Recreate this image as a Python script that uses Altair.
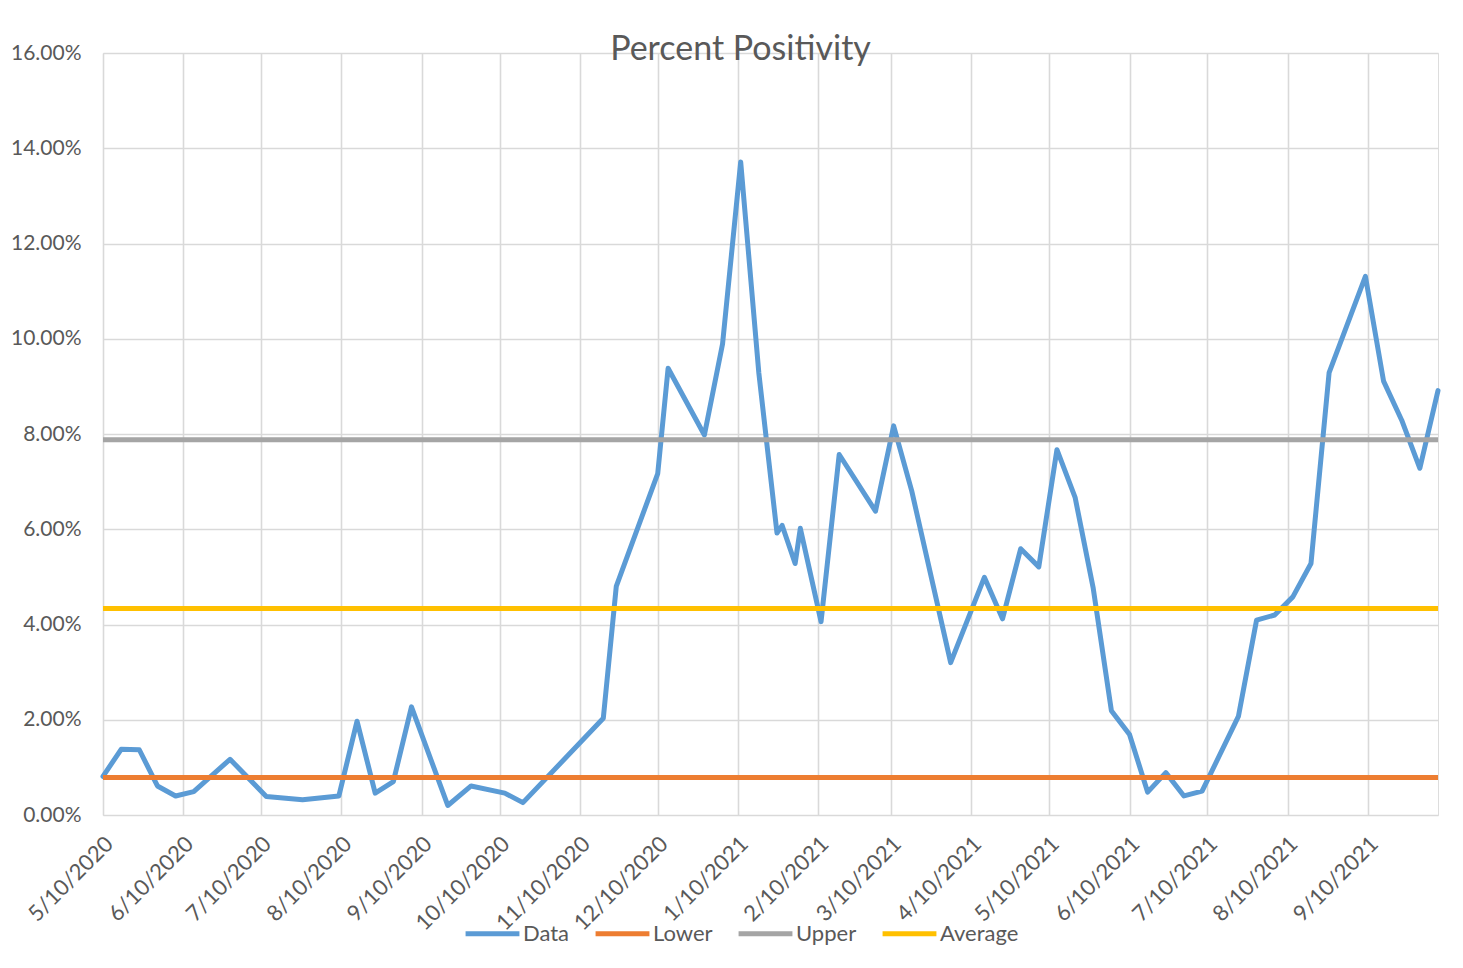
import altair as alt
import pandas as pd

# ---- data ----
DATES = [
    "2020-05-10", "2020-05-17", "2020-05-24", "2020-05-31", "2020-06-07", "2020-06-14",
    "2020-06-28", "2020-07-12", "2020-07-26", "2020-08-09", "2020-08-16", "2020-08-23",
    "2020-08-30", "2020-09-06", "2020-09-20", "2020-09-29", "2020-10-12", "2020-10-19",
    "2020-11-19", "2020-11-24", "2020-12-10", "2020-12-14", "2020-12-28",
    "2021-01-04", "2021-01-11", "2021-01-18", "2021-01-25", "2021-01-27", "2021-02-01",
    "2021-02-03", "2021-02-11", "2021-02-18", "2021-03-04", "2021-03-11", "2021-03-18",
    "2021-04-02", "2021-04-15", "2021-04-22", "2021-04-29", "2021-05-06", "2021-05-13",
    "2021-05-20", "2021-05-27", "2021-06-03", "2021-06-10", "2021-06-17", "2021-06-24",
    "2021-07-01", "2021-07-08", "2021-07-22", "2021-07-29", "2021-08-05", "2021-08-12",
    "2021-08-19", "2021-08-26", "2021-09-09", "2021-09-16", "2021-09-23", "2021-09-30",
    "2021-10-07",
]
DATA = [
    0.81, 1.38, 1.37, 0.61, 0.40, 0.49,
    1.17, 0.39, 0.32, 0.40, 1.97, 0.46,
    0.70, 2.27, 0.20, 0.61, 0.46, 0.26,
    2.03, 4.80, 7.17, 9.38, 7.98,
    9.89, 13.71, 9.28, 5.92, 6.08, 5.28,
    6.02, 4.06, 7.57, 6.38, 8.17, 6.80,
    3.20, 4.99, 4.12, 5.59, 5.21, 7.67,
    6.67, 4.76, 2.19, 1.69, 0.48, 0.89,
    0.40, 0.50, 2.07, 4.09, 4.20, 4.58,
    5.28, 9.29, 11.31, 9.11, 8.29, 7.28,
    8.91,
]
LOWER = 0.79
UPPER = 7.88
AVERAGE = 4.335

SERIES = ["Data", "Lower", "Upper", "Average"]
COLORS = ["#5B9BD5", "#ED7D31", "#A5A5A5", "#FFC000"]
TICK_DATES = [(2020, m) for m in range(5, 13)] + [(2021, m) for m in range(1, 10)]
Y_TICKS = [0, 0.02, 0.04, 0.06, 0.08, 0.10, 0.12, 0.14, 0.16]

data_df = pd.DataFrame({"date": DATES, "value": [v / 100 for v in DATA], "series": "Data"})
ref_rows = []
for name, val in [("Lower", LOWER), ("Upper", UPPER), ("Average", AVERAGE)]:
    for d in DATES:
        ref_rows.append({"date": d, "value": val / 100, "series": name})
ref_df = pd.DataFrame(ref_rows)

FONT = "Lato"
TXT = "#595959"
GRID = "#D9D9D9"

x_enc = alt.X(
    "date:T",
    scale=alt.Scale(
        type="utc",
        domain=[alt.DateTime(year=2020, month=5, date=10, utc=True),
                alt.DateTime(year=2021, month=10, date=7, utc=True)],
        nice=False,
    ),
    axis=alt.Axis(
        title=None,
        values=[alt.DateTime(year=y, month=m, date=10, utc=True) for y, m in TICK_DATES],
        format="%-m/%-d/%Y",
        labelAngle=-45,
        labelAlign="right",
        labelBaseline="middle",
        labelFontSize=22,
        labelColor=TXT,
        labelFont=FONT,
        labelPadding=25,
        labelOffset=6,
        ticks=False,
        domain=False,
        grid=True,
        gridColor=GRID,
        gridWidth=1.6,
        labelOverlap=False,
    ),
)
y_enc = alt.Y(
    "value:Q",
    scale=alt.Scale(domain=[0, 0.16], nice=False),
    axis=alt.Axis(
        title=None,
        values=Y_TICKS,
        format=".2%",
        labelFontSize=21,
        labelColor=TXT,
        labelFont=FONT,
        labelPadding=22,
        ticks=False,
        domain=False,
        grid=True,
        gridColor=GRID,
        gridWidth=1.6,
    ),
)
color_enc = alt.Color(
    "series:N",
    scale=alt.Scale(domain=SERIES, range=COLORS),
    legend=alt.Legend(
        title=None,
        orient="none",
        direction="horizontal",
        legendX=360,
        legendY=851,
        symbolType="stroke",
        symbolSize=2900,
        symbolStrokeWidth=5,
        labelFontSize=22,
        labelColor=TXT,
        labelFont=FONT,
        labelOffset=1,
        columnPadding=15,
    ),
)

data_line = alt.Chart(data_df).mark_line(strokeWidth=5, strokeCap="round", strokeJoin="round").encode(
    x=x_enc, y=y_enc, color=color_enc
)
ref_lines = alt.Chart(ref_df).mark_line(strokeWidth=5).encode(
    x=x_enc, y=y_enc, color=color_enc, detail="series:N"
)

chart = (
    alt.layer(data_line, ref_lines)
    .properties(
        width=1335,
        height=762,
        title=alt.TitleParams(
            "Percent Positivity",
            fontSize=34,
            font=FONT,
            fontWeight="normal",
            color=TXT,
            anchor="middle",
            dx=-30,
            offset=-25,
        ),
        autosize=alt.AutoSizeParams(type="none"),
        padding={"left": 95, "top": 45, "right": 17, "bottom": 150},
    )
    .configure_view(stroke=None)
    .configure(background="white")
)

chart.save("out.html", embed_options={"renderer": "svg", "actions": False})
